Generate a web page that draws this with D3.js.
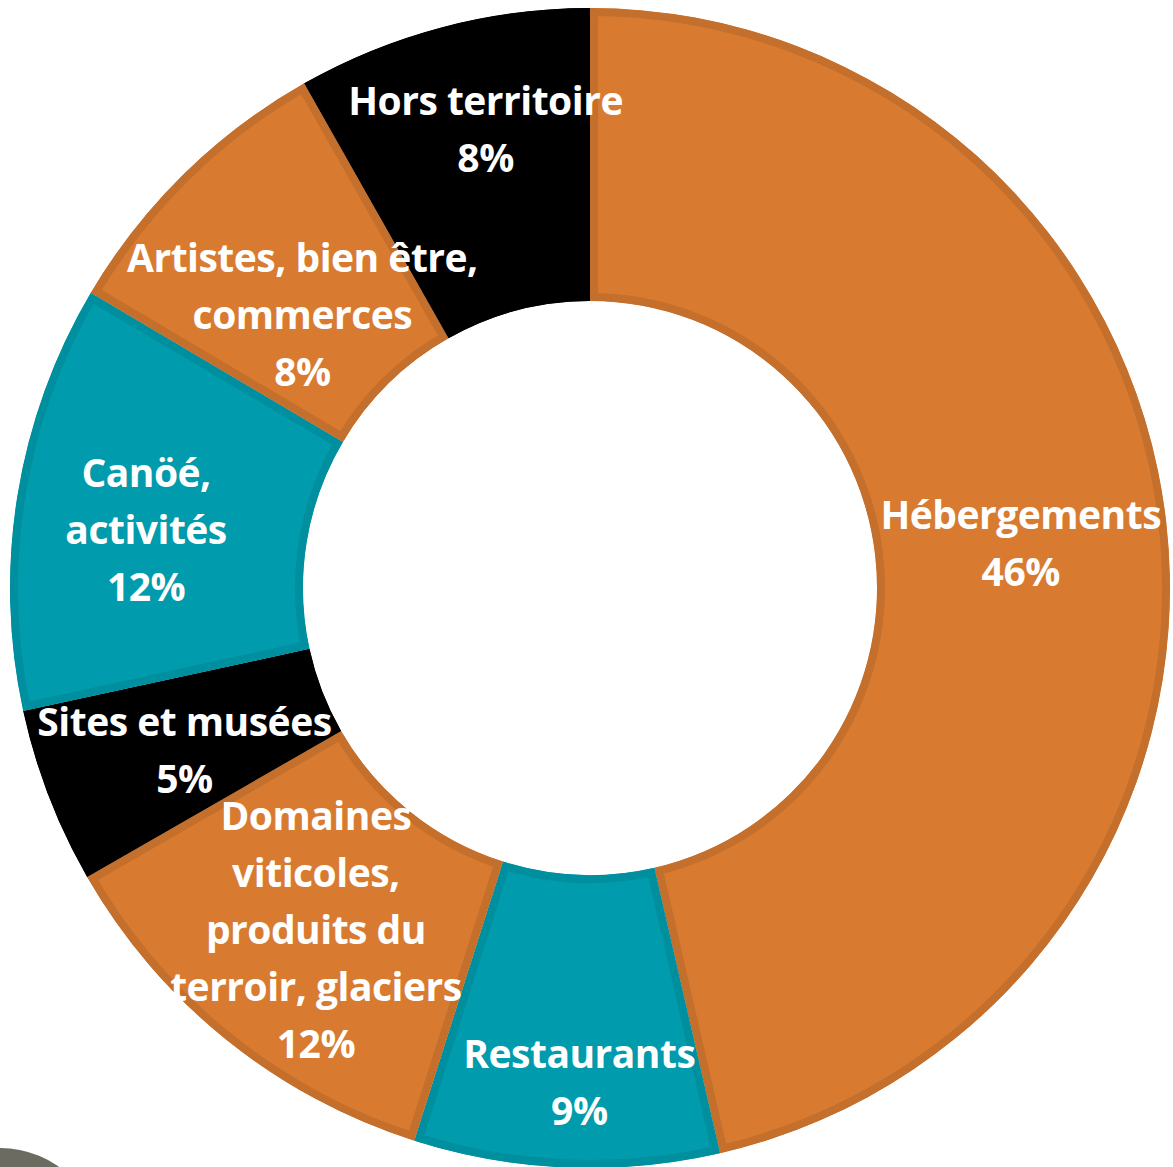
<!DOCTYPE html>
<html>
<head>
<meta charset="utf-8">
<script src="https://cdn.jsdelivr.net/npm/d3@7"></script>
<style>
  html, body { margin: 0; padding: 0; background: #ffffff; }
  svg { display: block; }
</style>
</head>
<body>
<div id="chart"></div>
<script>
// categories, clockwise from 12 o'clock
var categories = [
    ["Hébergements"],
    ["Restaurants"],
    ["Domaines", "viticoles,", "produits du", "terroir, glaciers"],
    ["Sites et musées"],
    ["Canöé,", "activités"],
    ["Artistes, bien être,", "commerces"],
    ["Hors territoire"]
];
// shares (%)
var shares = [46.4, 8.5, 11.8, 4.9, 11.9, 8.3, 8.2];
// percentages as printed on the chart
var pctLabels = ["46%", "9%", "12%", "5%", "12%", "8%", "8%"];
var colorKeys = ["orange", "teal", "orange", "black", "teal", "orange", "black"];

var W = 1173, H = 1167;
var cx = 590, cy = 588;
var outerR = 580, innerR = 287;

var fills   = { orange: "#d87b30", teal: "#009bac", black: "#000000" };
var borders = { orange: "#c46f2c", teal: "#008f9f", black: "#000000" };

// small shifts of each label from its slice centroid
var nudge = [[0, 5], [7, 62], [-2, 5], [-1, 7], [-16, 11], [16, 37], [6, -39]];

var svg = d3.select("#chart").append("svg")
    .attr("width", W)
    .attr("height", H);

// grey shape peeking in at the lower left corner
svg.append("circle")
    .attr("cx", 0).attr("cy", 1250).attr("r", 102)
    .attr("fill", "#6b6b62");

var g = svg.append("g")
    .attr("transform", "translate(" + cx + "," + cy + ")");

var data = shares.map(function(v, i) {
    return { value: v, lines: categories[i], pct: pctLabels[i], key: colorKeys[i], idx: i };
});

var pie = d3.pie().sort(null).value(function(d) { return d.value; });
var arc = d3.arc().innerRadius(innerR).outerRadius(outerR);
var arcs = pie(data);

var defs = svg.append("defs");
arcs.forEach(function(a, i) {
    defs.append("clipPath").attr("id", "clip" + i)
        .append("path").attr("d", arc(a));
});

// slices with an inner darker border (stroke clipped to the slice)
g.selectAll("path.slice")
    .data(arcs)
    .enter()
    .append("path")
    .attr("class", "slice")
    .attr("d", arc)
    .attr("clip-path", function(d, i) { return "url(#clip" + i + ")"; })
    .attr("fill", function(d) { return fills[d.data.key]; })
    .attr("stroke", function(d) { return borders[d.data.key]; })
    .attr("stroke-width", 16)
    .attr("stroke-linejoin", "miter");

// labels
var fontSize = 39, lineH = 57;
var labels = g.selectAll("text.lbl")
    .data(arcs)
    .enter()
    .append("text")
    .attr("class", "lbl")
    .attr("text-anchor", "middle")
    .attr("fill", "#ffffff")
    .style("font-family", "'Open Sans', Lato, sans-serif")
    .style("font-weight", 700)
    .style("letter-spacing", "-0.5px")
    .style("font-size", fontSize + "px");

labels.each(function(d, i) {
    var c = arc.centroid(d);
    var x = c[0] + nudge[i][0];
    var y = c[1] + nudge[i][1];
    var lines = d.data.lines.concat([d.data.pct]);
    var top = y - (lines.length - 1) * lineH / 2;
    var t = d3.select(this);
    lines.forEach(function(s, k) {
        t.append("tspan")
            .attr("x", x)
            .attr("y", top + k * lineH)
            .attr("dy", "0.35em")
            .text(s);
    });
});
</script>
</body>
</html>
